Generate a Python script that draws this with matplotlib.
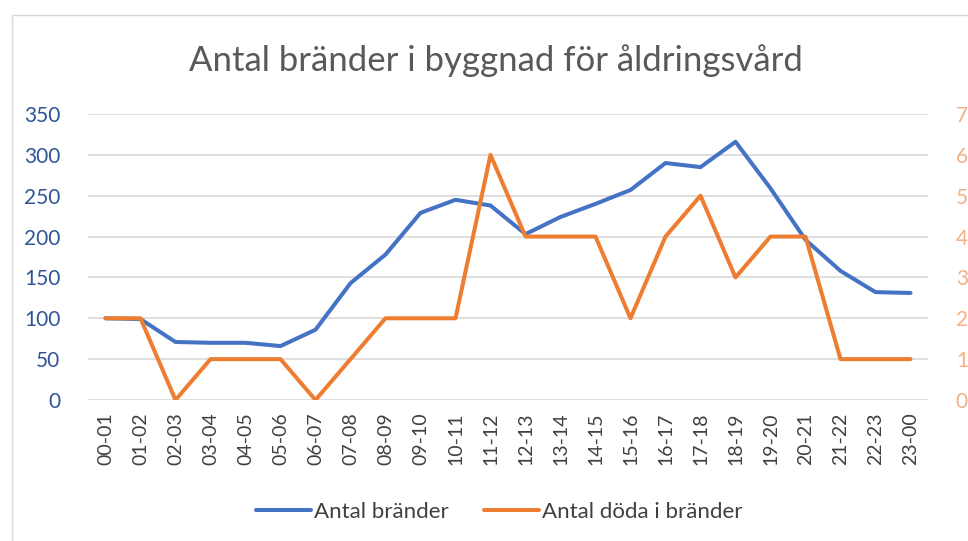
import matplotlib
matplotlib.use("Agg")
import matplotlib.pyplot as plt
from matplotlib.patches import Rectangle

# data
hours = ["00-01", "01-02", "02-03", "03-04", "04-05", "05-06", "06-07", "07-08",
         "08-09", "09-10", "10-11", "11-12", "12-13", "13-14", "14-15", "15-16",
         "16-17", "17-18", "18-19", "19-20", "20-21", "21-22", "22-23", "23-00"]
fires = [100, 99, 71, 70, 70, 66, 86, 143, 178, 229, 245, 238,
         203, 224, 240, 257, 290, 285, 316, 259, 196, 158, 132, 131]
deaths = [2, 2, 0, 1, 1, 1, 0, 1, 2, 2, 2, 6,
          4, 4, 4, 2, 4, 5, 3, 4, 4, 1, 1, 1]

plt.rcParams["font.family"] = ["Lato", "DejaVu Sans"]

BLUE = "#4472C4"
ORANGE = "#ED7D31"
W, H = 968, 541

fig = plt.figure(figsize=(W / 100, H / 100), dpi=100)

# chart frame (cropped on right and bottom like the screenshot)
fig.patches.append(Rectangle((12 / W, -0.1), 1.2, 1 - 15 / H + 0.1,
                             transform=fig.transFigure, fill=False,
                             edgecolor="#D9D9D9", linewidth=1))

ax = fig.add_axes([88 / W, 1 - 400 / H, 840 / W, 286 / H])
ax2 = ax.twinx()

x = list(range(len(hours)))
ax.plot(x, fires, color=BLUE, linewidth=2.9, solid_capstyle="round", zorder=3,
        label="Antal bränder")
ax2.plot(x, deaths, color=ORANGE, linewidth=2.9, solid_capstyle="round", zorder=3,
         label="Antal döda i bränder")

ax.set_xlim(-0.5, len(hours) - 0.5)
ax.set_ylim(0, 350)
ax.set_yticks(range(0, 351, 50))
ax2.set_ylim(0, 7)
ax2.set_yticks(range(0, 8))

ax.set_xticks(x)
ax.set_xticklabels(hours, rotation=90, fontsize=14, color="#404040")
ax.tick_params(axis="x", length=0, pad=9)
ax.tick_params(axis="y", length=0, pad=20, labelsize=15, labelcolor="#2F5597")
ax2.tick_params(axis="y", length=0, pad=20, labelsize=15, labelcolor="#F4B183")

ax.grid(axis="y", color="#D9D9D9", linewidth=1.2)
ax.set_axisbelow(True)
for a in (ax, ax2):
    for s in a.spines.values():
        s.set_visible(False)

fig.text(496 / W, 1 - 61 / H, "Antal bränder i byggnad för åldringsvård",
         ha="center", va="center", fontsize=25, color="#595959")

h1, l1 = ax.get_legend_handles_labels()
h2, l2 = ax2.get_legend_handles_labels()
fig.legend(h1 + h2, l1 + l2, loc="center", bbox_to_anchor=(499 / W, 1 - 512 / H),
           ncol=2, frameon=False, fontsize=16, labelcolor="#404040",
           handlelength=2.5, handletextpad=0.1, columnspacing=1.6)

plt.savefig("out.png", dpi=100)
